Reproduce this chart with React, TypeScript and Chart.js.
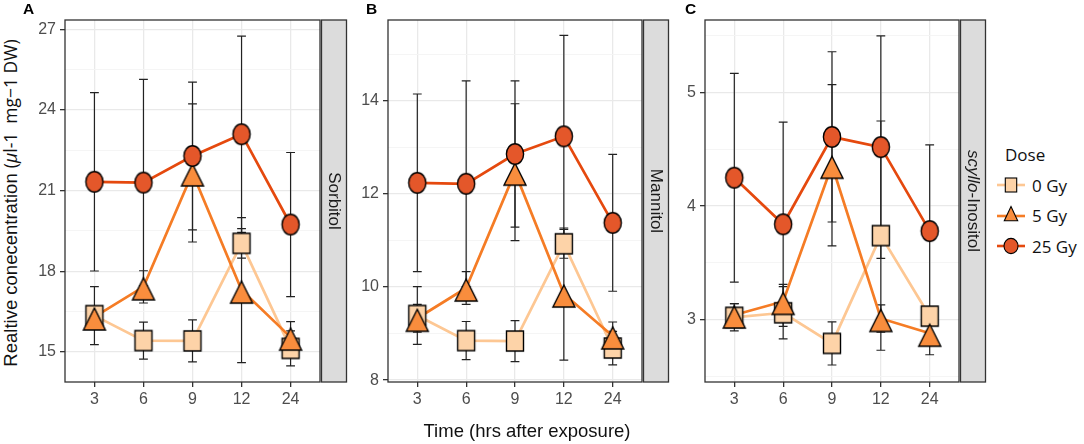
import { useEffect, useRef } from "react"
import { Chart, registerables } from "chart.js"

Chart.register(...registerables)

const timeLabels = ["3", "6", "9", "12", "24"]
const doseLabels = ["0 Gy", "5 Gy", "25 Gy"]

// Sorbitol (panel A)
const sorbitol0 = [16.35, 15.42, 15.41, 19.04, 15.13]
const sorbitol0Err = [1.08, 0.69, 0.78, 0.55, 0.65]
const sorbitol5 = [16.3, 17.42, 21.66, 17.3, 15.55]
const sorbitol5Err = [0.35, 0.6, 2.57, 2.7, 0.58]
const sorbitol25 = [21.33, 21.3, 22.29, 23.1, 19.74]
const sorbitol25Err = [3.32, 3.84, 2.75, 3.65, 2.68]
const sorbitolTicks = [15, 18, 21, 24, 27]
const sorbitolMinor = [16.5, 19.5, 22.5, 25.5]

// Mannitol (panel B)
const mannitol0 = [9.39, 8.85, 8.84, 10.93, 8.69]
const mannitol0Err = [0.62, 0.41, 0.44, 0.31, 0.36]
const mannitol5 = [9.33, 9.98, 12.47, 9.85, 8.95]
const mannitol5Err = [0.3, 0.35, 1.47, 1.42, 0.3]
const mannitol25 = [12.24, 12.22, 12.86, 13.24, 11.38]
const mannitol25Err = [1.91, 2.21, 1.57, 2.17, 1.47]
const mannitolTicks = [8, 10, 12, 14]
const mannitolMinor = [9, 11, 13, 15]

// scyllo-Inositol (panel C)
const inositol0 = [3.02, 3.06, 2.79, 3.74, 3.03]
const inositol0Err = [0.12, 0.23, 0.19, 1.01, 0.08]
const inositol5 = [3.04, 3.16, 4.36, 3.01, 2.88]
const inositol5Err = [0.1, 0.15, 0.71, 0.12, 0.19]
const inositol25 = [4.25, 3.84, 4.61, 4.52, 3.78]
const inositol25Err = [0.92, 0.9, 0.75, 0.98, 0.76]
const inositolTicks = [3, 4, 5]
const inositolMinor = [2.5, 3.5, 4.5, 5.5]

const doseFill = ["#FDD3A8", "#F98D3D", "#E4572A"]
const doseLine = ["#FDC793", "#F57C25", "#E5490E"]
const doseShape = ["square", "triangle", "circle"]

const sans = "'Liberation Sans', Arial, sans-serif"
const legendFont = "'Open Sans', sans-serif"

function makeGlyph(shape: string, fill: string) {
  const c = document.createElement("canvas")
  c.width = 28
  c.height = 36
  const ctx = c.getContext("2d")!
  const cx = 14
  const cy = 18
  ctx.fillStyle = fill
  ctx.strokeStyle = "#000"
  ctx.lineWidth = 1.4
  ctx.beginPath()
  if (shape === "square") {
    ctx.rect(cx - 8.5, cy - 10, 17, 20)
  } else if (shape === "circle") {
    ctx.ellipse(cx, cy, 8.6, 10.3, 0, 0, Math.PI * 2)
  } else {
    ctx.moveTo(cx, cy - 9)
    ctx.lineTo(cx + 11, cy + 13)
    ctx.lineTo(cx - 11, cy + 13)
    ctx.closePath()
  }
  ctx.fill()
  ctx.stroke()
  return c
}

const errorBars = {
  id: "errorBars",
  beforeDatasetsDraw(chart: any, _args: any, opts: any) {
    const { ctx, chartArea } = chart
    const xs = chart.scales.x
    const ys = chart.scales.y
    ctx.save()
    ctx.beginPath()
    ctx.rect(chartArea.left, chartArea.top, chartArea.right - chartArea.left, chartArea.bottom - chartArea.top)
    ctx.clip()
    ctx.strokeStyle = "#222"
    ctx.lineWidth = 1.2
    opts.series.forEach((s: any) => {
      s.values.forEach((v: number, j: number) => {
        const x = xs.getPixelForValue(j)
        const t = ys.getPixelForValue(v + s.errors[j])
        const b = ys.getPixelForValue(v - s.errors[j])
        ctx.beginPath()
        ctx.moveTo(x, t)
        ctx.lineTo(x, b)
        ctx.moveTo(x - 4.4, t)
        ctx.lineTo(x + 4.4, t)
        ctx.moveTo(x - 4.4, b)
        ctx.lineTo(x + 4.4, b)
        ctx.stroke()
      })
    })
    ctx.restore()
  },
}

const panelFrame = {
  id: "panelFrame",
  afterDraw(chart: any, _args: any, opts: any) {
    const { ctx, chartArea } = chart
    const { left, right, top, bottom } = chartArea
    ctx.save()
    ctx.strokeStyle = "#333"
    ctx.lineWidth = 1.3
    ctx.strokeRect(left, top, right - left, bottom - top)
    const sx = right + 1.5
    const sw = 25
    ctx.fillStyle = "#dcdcdc"
    ctx.fillRect(sx, top, sw, bottom - top)
    ctx.strokeRect(sx, top, sw, bottom - top)
    ctx.translate(sx + sw / 2, (top + bottom) / 2)
    ctx.rotate(Math.PI / 2)
    ctx.fillStyle = "#1a1a1a"
    ctx.textBaseline = "middle"
    const italicFont = `italic 17px ${sans}`
    const normalFont = `17px ${sans}`
    ctx.font = italicFont
    const w1 = opts.italic ? ctx.measureText(opts.italic).width : 0
    ctx.font = normalFont
    const w2 = ctx.measureText(opts.label).width
    let x = -(w1 + w2) / 2
    if (opts.italic) {
      ctx.font = italicFont
      ctx.fillText(opts.italic, x, 0)
      x += w1
    }
    ctx.font = normalFont
    ctx.fillText(opts.label, x, 0)
    ctx.restore()
  },
}

type Series = { values: number[]; errors: number[] }

type PanelProps = {
  left: number
  yWidth: number
  min: number
  max: number
  majors: number[]
  minors: number[]
  series: Series[]
  label: string
  italic?: string
}

function Panel({ left, yWidth, min, max, majors, minors, series, label, italic }: PanelProps) {
  const chartRef = useRef<HTMLCanvasElement>(null)
  const chartInstance = useRef<Chart | null>(null)

  useEffect(() => {
    if (!chartRef.current) return
    if (chartInstance.current) chartInstance.current.destroy()
    const ctx = chartRef.current.getContext("2d")
    if (!ctx) return

    const lineSets = series.map((s, i) => ({
      data: s.values.map((v, j) => ({ x: j, y: v })),
      showLine: true,
      borderColor: doseLine[i],
      borderWidth: 2.7,
      pointRadius: 0,
      order: 6 - i,
    }))
    const pointSets = series.map((s, i) => ({
      data: s.values.map((v, j) => ({ x: j, y: v })),
      showLine: false,
      pointStyle: makeGlyph(doseShape[i], doseFill[i]),
      pointRadius: 10,
      order: 3 - i,
    }))
    const isMajor = (v: number) => majors.some((m) => Math.abs(m - v) < 1e-6)

    chartInstance.current = new Chart(ctx, {
      type: "scatter",
      data: { datasets: [...lineSets, ...pointSets] as any },
      plugins: [errorBars, panelFrame],
      options: {
        responsive: true,
        maintainAspectRatio: false,
        animation: false,
        layout: { padding: { top: 20, right: 30, left: 0, bottom: 0 } },
        plugins: {
          legend: { display: false },
          tooltip: { enabled: false },
          errorBars: { series },
          panelFrame: { label, italic },
        } as any,
        scales: {
          x: {
            type: "linear",
            min: -0.6,
            max: 4.6,
            afterBuildTicks: (scale: any) => {
              scale.ticks = timeLabels.map((_, i) => ({ value: i }))
            },
            afterFit: (scale: any) => {
              scale.height = 62
            },
            ticks: {
              autoSkip: false,
              maxRotation: 0,
              padding: 3,
              color: "#4d4d4d",
              font: { family: sans, size: 16 },
              callback: (v: any) => timeLabels[v],
            },
            grid: { color: "#e9e9e9", lineWidth: 1.3, tickColor: "#333", tickLength: 5 },
            border: { display: false },
          },
          y: {
            type: "linear",
            min,
            max,
            afterBuildTicks: (scale: any) => {
              scale.ticks = [...majors, ...minors].sort((a, b) => a - b).map((v) => ({ value: v }))
            },
            afterFit: (scale: any) => {
              scale.width = yWidth
            },
            ticks: {
              autoSkip: false,
              padding: 4,
              color: "#4d4d4d",
              font: { family: sans, size: 16 },
              callback: (v: any) => (isMajor(v) ? String(v) : ""),
            },
            grid: {
              color: (c: any) => (isMajor(c.tick.value) ? "#e9e9e9" : "#f4f4f4"),
              lineWidth: (c: any) => (isMajor(c.tick.value) ? 1.3 : 0.9),
              tickColor: (c: any) => (isMajor(c.tick.value) ? "#333" : "rgba(0,0,0,0)"),
              tickLength: 5,
            },
            border: { display: false },
          },
        },
      },
    })

    return () => {
      if (chartInstance.current) {
        chartInstance.current.destroy()
        chartInstance.current = null
      }
    }
  }, [])

  return (
    <div style={{ position: "absolute", left, top: 0, width: 320, height: 444 }}>
      <canvas ref={chartRef} />
    </div>
  )
}

function LegendSymbol({ i }: { i: number }) {
  const shape = doseShape[i]
  return (
    <svg width={30} height={24} style={{ display: "block" }}>
      <line x1={1} y1={12} x2={29} y2={12} stroke={doseLine[i]} strokeWidth={2.6} />
      {shape === "square" && <rect x={9.3} y={5} width={11.4} height={14} fill={doseFill[i]} stroke="#000" strokeWidth={1.1} />}
      {shape === "triangle" && <polygon points="15,2.5 21.7,16.8 8.3,16.8" fill={doseFill[i]} stroke="#000" strokeWidth={1.1} />}
      {shape === "circle" && <ellipse cx={15} cy={12} rx={7} ry={7.6} fill={doseFill[i]} stroke="#000" strokeWidth={1.1} />}
    </svg>
  )
}

export default function App() {
  return (
    <div style={{ position: "fixed", left: 0, top: 0, width: 1084, height: 444, background: "#fff", fontFamily: sans, overflow: "hidden" }}>
      <Panel
        left={30}
        yWidth={35}
        min={13.88}
        max={27.35}
        majors={sorbitolTicks}
        minors={sorbitolMinor}
        series={[
          { values: sorbitol0, errors: sorbitol0Err },
          { values: sorbitol5, errors: sorbitol5Err },
          { values: sorbitol25, errors: sorbitol25Err },
        ]}
        label="Sorbitol"
      />
      <Panel
        left={352}
        yWidth={36}
        min={7.96}
        max={15.74}
        majors={mannitolTicks}
        minors={mannitolMinor}
        series={[
          { values: mannitol0, errors: mannitol0Err },
          { values: mannitol5, errors: mannitol5Err },
          { values: mannitol25, errors: mannitol25Err },
        ]}
        label="Mannitol"
      />
      <Panel
        left={669}
        yWidth={36}
        min={2.45}
        max={5.64}
        majors={inositolTicks}
        minors={inositolMinor}
        series={[
          { values: inositol0, errors: inositol0Err },
          { values: inositol5, errors: inositol5Err },
          { values: inositol25, errors: inositol25Err },
        ]}
        italic="scyllo"
        label="-Inositol"
      />

      {[
        ["A", 23],
        ["B", 366],
        ["C", 685],
      ].map(([t, x]) => (
        <div key={t as string} style={{ position: "absolute", left: x as number, top: 0, fontSize: 15.5, fontWeight: "bold", color: "#000" }}>
          {t}
        </div>
      ))}

      <div
        style={{
          position: "absolute",
          left: 10,
          top: 203,
          transform: "translate(-50%, -50%) rotate(-90deg)",
          whiteSpace: "nowrap",
          fontSize: 18.5,
          color: "#111",
        }}
      >
        Realtive conecentration{" "}
        <span style={{ fontFamily: legendFont, fontSize: 17.5 }}>
          (<i>μ</i>l-1&nbsp;&nbsp;mg−1 DW)
        </span>
      </div>

      <div style={{ position: "absolute", left: 527, top: 431, transform: "translate(-50%, -50%)", whiteSpace: "nowrap", fontSize: 18.5, color: "#111" }}>
        Time (hrs after exposure)
      </div>

      <div style={{ position: "absolute", left: 996, top: 143, fontFamily: legendFont, color: "#111" }}>
        <div style={{ fontSize: 17, marginLeft: 9, marginBottom: 4 }}>Dose</div>
        {doseLabels.map((d, i) => (
          <div key={d} style={{ display: "flex", alignItems: "center", height: 30.5 }}>
            <LegendSymbol i={i} />
            <span style={{ fontSize: 17, marginLeft: 6 }}>{d}</span>
          </div>
        ))}
      </div>
    </div>
  )
}
